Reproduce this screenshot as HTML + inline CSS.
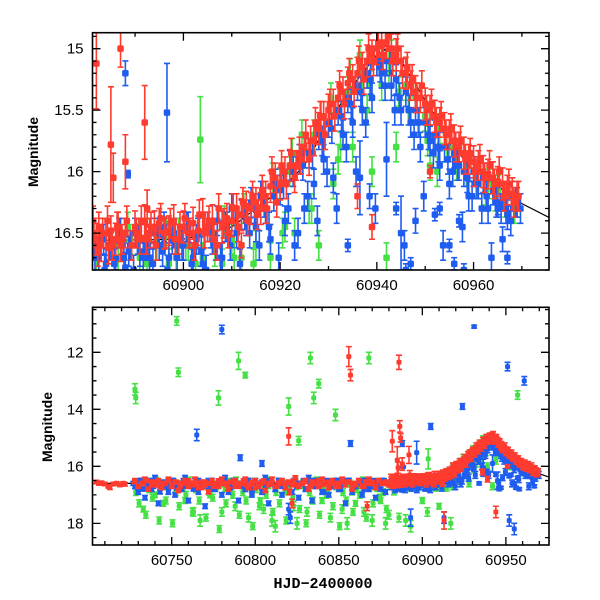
<!DOCTYPE html>
<html><head><meta charset="utf-8"><style>
html,body{margin:0;padding:0;background:#fff;}
svg{display:block;font-family:"Liberation Sans",sans-serif;}
</style></head><body>
<svg id="chart" width="600" height="600" viewBox="0 0 600 600">
<g id="top"></g>
<g id="bot"></g>
<text x="38" y="152" transform="rotate(-90 38 152)" text-anchor="middle" font-size="14" font-weight="bold">Magnitude</text>
<text x="52" y="427" transform="rotate(-90 52 427)" text-anchor="middle" font-size="14" font-weight="bold">Magnitude</text>
<text x="323" y="588" text-anchor="middle" font-size="15" font-family="Liberation Mono, monospace" font-weight="bold">HJD−2400000</text>
</svg>
<script>
const redT=[60705,60706.5,60708,60710,60712,60713,60715,60717,60719,60721,60722,60728,60730,60733,60735,60738,60740,60743,60745,60748,60750,60753,60755,60758,60760,60763,60765,60768,60770,60773,60775,60778,60780,60783,60785,60788,60790,60793,60795,60798,60800,60803,60805,60808,60810,60813,60815,60818,60820,60820.5,60822,60823,60825,60828,60830,60833,60835,60838,60840,60843,60845,60848,60850,60853,60856,60857,60858,60860,60862,60865,60867,60868,60870,60872,60874,60876,60878,60880,60886,60886.5,60887,60913,60944,
60881.5,60882,60882.5,60883,60884,60884.5,60885,60886,60886.5,60887,60888,60890,60891,60892,60893,60894,60895,60896,60897,60898,60899,60900,60901,60902,60903,60904,60905,60906,60907,60908,60909,60910,60911,60912,60913,60914,60915,60916,60917,60918,60919,60920,60921,60922,60923,60924,60925,60926,60927,60928,60929,60930,60931,60932,60933,60934,60935,60936,60937,60938,60939,60940,60941,60942,60943,60944,60945,60946,60947,60948,60949,60950,60951,60952,60953,60954,60955,60956,60957,60958,60959,60960,60961,60962,60963,60964,60965,60966,60967,60968,60969,
60882,60885,60885.5,60888,60892,60892.5,60912,60936,60939,60951];
const redM=[16.55,16.6,16.58,16.62,16.7,16.75,16.62,16.6,16.65,16.6,16.63,16.55,16.7,16.6,16.5,16.65,16.55,16.7,16.6,16.5,16.65,16.55,16.7,16.6,16.5,16.65,16.6,16.75,16.55,16.6,16.7,16.5,16.6,16.65,16.55,16.7,16.6,16.5,16.65,16.55,16.75,16.6,16.5,16.65,16.6,16.7,16.55,16.6,14.95,16.9,17.3,16.5,16.65,16.6,16.55,16.7,16.6,16.5,16.65,16.55,16.6,16.7,16.6,16.55,12.15,12.8,16.6,16.65,16.5,16.7,17.4,16.6,16.55,16.65,16.5,16.6,16.55,16.6,12.35,14.6,15.0,17.9,17.6,
16.5,16.55,16.45,16.6,16.5,16.62,16.48,16.55,16.45,16.6,16.5,16.45,16.55,16.4,16.5,16.45,16.42,16.5,16.48,16.4,16.55,16.45,16.5,16.42,16.48,16.35,16.45,16.4,16.6,16.45,16.38,16.4,16.3,16.35,16.28,16.3,16.25,16.3,16.2,16.12,16.05,16.1,16.0,15.95,16.05,15.85,15.8,15.9,15.75,15.65,15.55,15.5,15.45,15.4,15.35,15.28,15.25,15.2,15.15,15.1,15.05,15.0,14.98,14.95,15.0,15.05,15.1,15.2,15.3,15.35,15.4,15.45,15.5,15.55,15.6,15.65,15.7,15.75,15.8,15.85,15.9,15.92,15.95,16.0,16.02,16.05,16.08,16.1,16.15,16.18,16.2,
15.12,15.78,16.05,15.92,15.6,16.3,16.6,16.2,16.45,16.0];
const redE=[0.06,0.06,0.06,0.06,0.06,0.06,0.06,0.06,0.06,0.06,0.06,0.06,0.06,0.06,0.06,0.06,0.06,0.06,0.06,0.06,0.06,0.06,0.06,0.06,0.06,0.06,0.06,0.06,0.06,0.06,0.06,0.06,0.06,0.06,0.06,0.06,0.06,0.06,0.06,0.06,0.06,0.06,0.06,0.06,0.06,0.06,0.06,0.06,0.3,0.1,0.15,0.06,0.06,0.06,0.06,0.06,0.06,0.06,0.06,0.06,0.06,0.06,0.06,0.06,0.35,0.2,0.06,0.06,0.06,0.06,0.15,0.06,0.06,0.06,0.06,0.06,0.06,0.06,0.25,0.2,0.15,0.3,0.2,
0.12,0.13,0.12,0.13,0.12,0.13,0.12,0.13,0.12,0.13,0.12,0.13,0.12,0.13,0.12,0.13,0.12,0.13,0.12,0.13,0.12,0.13,0.12,0.13,0.12,0.13,0.12,0.13,0.12,0.13,0.12,0.13,0.12,0.13,0.12,0.13,0.12,0.13,0.12,0.13,0.12,0.13,0.12,0.13,0.12,0.13,0.12,0.13,0.12,0.13,0.12,0.13,0.12,0.13,0.12,0.13,0.12,0.13,0.12,0.13,0.12,0.13,0.12,0.13,0.12,0.13,0.12,0.13,0.12,0.13,0.12,0.13,0.12,0.13,0.12,0.13,0.12,0.13,0.12,0.13,0.12,0.13,0.12,0.13,0.12,0.13,0.12,0.13,0.12,0.13,0.12,
0.37,0.47,0.2,0.22,0.3,0.15,0.1,0.1,0.1,0.05];
const redT2=[60881.3,60882.3,60883.3,60884.3,60885.3,60886.3,60887.3,60888.3,60889.3,60890.3,60891.3,60892.3,60893.3,60894.3,60895.3,60896.3,60897.3,60898.3,60899.3,60900.3,60901.3,60902.3,60903.3,60904.3,60905.3,60906.3,60907.3,60908.3,60909.3,60910.3,60911.3,60912.3,60913.3,60914.3,60915.3,60916.3,60917.3,60918.3,60919.3,60920.3,60921.3,60922.3,60923.3,60924.3,60925.3,60926.3,60927.3,60928.3,60929.3,60930.3,60931.3,60932.3,60933.3,60934.3,60935.3,60936.3,60937.3,60938.3,60939.3,60940.3,60941.3,60942.3,60943.3,60944.3,60945.3,60946.3,60947.3,60948.3,60949.3,60950.3,60951.3,60952.3,60953.3,60954.3,60955.3,60956.3,60957.3,60958.3,60959.3,60960.3,60961.3,60962.3,60963.3,60964.3,60965.3,60966.3,60967.3,60968.3,60969.3];
const redM2=[16.4,16.65,16.5,16.4,16.6,16.45,16.55,16.4,16.6,16.5,16.4,16.55,16.45,16.6,16.38,16.5,16.42,16.55,16.45,16.38,16.5,16.6,16.35,16.5,16.4,16.55,16.3,16.42,16.5,16.3,16.45,16.25,16.4,16.2,16.35,16.15,16.3,16.0,16.25,15.95,16.1,15.85,15.95,15.9,15.7,15.75,15.6,15.55,15.7,15.45,15.55,15.3,15.45,15.2,15.35,15.1,15.25,15.0,15.1,14.95,15.05,14.9,15.1,15.0,15.2,15.15,15.25,15.4,15.3,15.5,15.45,15.6,15.55,15.7,15.65,15.8,15.75,15.9,15.85,16.0,15.9,16.05,15.95,16.1,16.0,16.2,16.1,16.25,16.2];
const redE2=0.12;

const blueT=[60727,60729,60731,60733,60735,60737,60739,60741,60743,60745,60747,60749,60751,60753,60755,60757,60759,60761,60763,60765,60766,60768,60770,60772,60774,60776,60778,60780,60781,60783,60785,60787,60789,60791,60792,60794,60796,60798,60800,60802,60804,60806,60808,60810,60812,60814,60816,60818,60820,60821,60823,60825,60827,60829,60831,60833,60835,60837,60839,60841,60843,60845,60847,60849,60851,60853,60855,60857,60859,60861,60863,60865,60867,60869,60871,60873,60875,60877,60879,60888,60893,60905,60913,60924,60931,60951,60952,60961,60955,
60881.5,60882.5,60883.5,60884,60885,60886,60887,60888,60889,60890,60891,60892,60893,60894,60895,60896,60897,60898,60899,60900,60901,60902,60903,60904,60905,60906,60907,60908,60909,60910,60911,60912,60913,60914,60915,60916,60917,60918,60919,60920,60921,60922,60923,60924,60925,60926,60927,60928,60929,60930,60931,60932,60933,60934,60935,60936,60937,60938,60939,60940,60941,60942,60943,60944,60945,60946,60947,60948,60949,60950,60951,60952,60953,60954,60955,60956,60957,60958,60959,60960,60961,60962,60963,60964,60965,60966,60967,60968,60969,
60896.6,60888.5,60944,60945,60946,60947,60948,60952,60953,60955,60956,60957,60958,60965,60966,60967,60936.5,60938.5,60934,60942];
const blueM=[16.6,16.7,16.5,16.8,16.6,16.5,16.7,16.6,16.9,16.55,16.7,16.6,16.5,16.75,16.6,16.5,16.7,16.6,16.8,14.9,16.5,16.7,16.6,16.5,16.8,16.6,16.7,11.2,16.5,16.6,16.75,16.5,16.6,15.7,16.7,16.5,16.6,16.8,16.5,16.6,15.9,16.7,16.5,16.6,16.8,16.5,16.7,16.6,17.5,17.8,16.5,16.7,16.6,16.5,16.8,16.6,16.5,16.7,16.6,16.9,16.5,16.6,16.7,16.5,16.8,16.6,16.5,15.2,16.7,16.6,16.5,16.8,16.6,16.7,16.5,16.6,16.8,16.5,16.6,15.2,17.8,14.6,17.8,13.9,11.1,12.5,17.9,13.0,18.2,
16.6,16.7,16.55,16.75,16.6,16.7,16.5,16.78,16.6,16.5,16.65,16.55,16.7,16.5,16.6,16.45,16.7,16.5,16.55,16.6,16.45,16.7,16.5,16.75,16.45,16.55,16.4,16.7,16.45,16.3,16.5,16.35,16.4,16.25,16.45,16.2,16.3,16.55,16.1,16.15,16.4,15.95,16.6,15.9,16.3,15.85,16.1,15.7,15.9,15.6,16.05,15.5,15.7,15.4,15.6,15.3,15.5,15.2,15.4,15.1,15.2,15.1,15.3,15.25,15.5,15.35,15.6,15.5,15.8,15.6,15.75,15.7,15.95,15.8,16.1,15.85,15.95,16.0,16.2,16.0,16.1,16.05,16.3,16.15,16.25,16.2,16.35,16.2,16.25,
15.52,16.02,16.3,16.5,16.8,16.75,16.4,16.35,16.3,16.6,16.75,16.4,16.8,16.3,16.55,16.7,16.05,16.2,16.6,15.9];
const blueE=[0.07,0.07,0.07,0.07,0.07,0.07,0.07,0.07,0.07,0.07,0.07,0.07,0.07,0.07,0.07,0.07,0.07,0.07,0.07,0.2,0.07,0.07,0.07,0.07,0.07,0.07,0.07,0.15,0.07,0.07,0.07,0.07,0.07,0.1,0.07,0.07,0.07,0.07,0.07,0.07,0.1,0.07,0.07,0.07,0.07,0.07,0.07,0.07,0.2,0.2,0.07,0.07,0.07,0.07,0.07,0.07,0.07,0.07,0.07,0.07,0.07,0.07,0.07,0.07,0.07,0.07,0.07,0.1,0.07,0.07,0.07,0.07,0.07,0.07,0.07,0.07,0.07,0.07,0.07,0.1,0.3,0.1,0.2,0.1,0.05,0.15,0.2,0.15,0.2,
0.12,0.12,0.12,0.12,0.12,0.12,0.12,0.12,0.12,0.12,0.12,0.12,0.12,0.12,0.12,0.12,0.12,0.12,0.12,0.12,0.12,0.12,0.12,0.12,0.12,0.12,0.12,0.12,0.12,0.12,0.12,0.12,0.12,0.12,0.12,0.12,0.12,0.12,0.12,0.12,0.12,0.12,0.12,0.12,0.12,0.12,0.12,0.12,0.12,0.12,0.12,0.12,0.12,0.12,0.12,0.12,0.12,0.12,0.12,0.12,0.12,0.12,0.12,0.12,0.12,0.12,0.12,0.12,0.12,0.12,0.12,0.12,0.12,0.12,0.12,0.12,0.12,0.12,0.12,0.12,0.12,0.12,0.12,0.12,0.12,0.12,0.12,0.12,0.12,
0.4,0.03,0.05,0.3,0.05,0.05,0.1,0.05,0.05,0.05,0.05,0.05,0.05,0.05,0.1,0.05,0.3,0.1,0.05,0.3];
const blueT2=[60881.7,60882.7,60883.7,60884.7,60885.7,60886.7,60887.7,60888.7,60889.7,60890.7,60891.7,60892.7,60893.7,60894.7,60895.7,60896.7,60897.7,60898.7,60899.7,60900.7,60901.7,60902.7,60903.7,60904.7,60905.7,60906.7,60907.7,60908.7,60909.7,60910.7,60911.7,60912.7,60913.7,60914.7,60915.7,60916.7,60917.7,60918.7,60919.7,60920.7,60921.7,60922.7,60923.7,60924.7,60925.7,60926.7,60927.7,60928.7,60929.7,60930.7,60931.7,60932.7,60933.7,60934.7,60935.7,60936.7,60937.7,60938.7,60939.7,60940.7,60941.7,60942.7,60943.7,60944.7,60945.7,60946.7,60947.7,60948.7,60949.7,60950.7,60951.7,60952.7,60953.7,60954.7,60955.7,60956.7,60957.7,60958.7,60959.7,60960.7,60961.7,60962.7,60963.7,60964.7,60965.7,60966.7,60967.7,60968.7,60969.7];
const blueM2=[16.7,16.55,16.8,16.6,16.75,16.5,16.7,16.65,16.8,16.55,16.7,16.6,16.75,16.5,16.65,16.8,16.55,16.7,16.6,16.45,16.75,16.55,16.65,16.8,16.5,16.6,16.7,16.45,16.6,16.4,16.75,16.35,16.5,16.3,16.6,16.25,16.45,16.2,16.7,16.1,16.3,16.0,16.5,15.95,16.2,15.85,16.4,15.75,16.0,15.65,16.3,15.55,15.8,15.45,16.0,15.35,15.6,15.25,16.3,15.15,15.3,15.1,15.5,15.4,16.6,15.5,15.7,15.6,16.2,15.7,15.85,15.8,16.6,15.9,16.0,15.95,16.45,16.05,16.2,16.1,16.3,16.2,16.7,16.25,16.3,16.3,16.4,16.25,16.3];
const blueE2=0.12;

const greenT=[60728,60728.5,60730,60733,60735,60738,60740,60743,60745,60748,60750,60753,60754,60756,60758,60760,60763,60765,60767,60770,60773,60776,60778,60780,60782,60785,60788,60790,60792,60794,60796,60798,60800,60803,60805,60808,60810,60812,60815,60818,60820,60823,60825,60826,60828,60831,60833,60835,60836,60838,60840,60843,60845,60848,60850,60852,60855,60858,60860,60863,60865,60868,60870,60873,60875,60878,60880,60883,60886,60890,60893,60900,60903,60910,60917,60957,
60881,60882,60884,60886,60889,60891,60893,60895,60897,60899,60901,60903.5,60904,60906,60908,60910,60912,60913,60915,60917,60918,60920,60921,60922,60923,60925,60926,60927,60928,60930,60931,60932,60934,60935,60937,60938,60939,60940,60941,60942,60943,60944,60946,60948,60950,60951,60953,60955,60957,60959,60961,60963,60965,60967,60969];
const greenM=[13.3,13.6,16.6,17.5,16.7,16.5,17.0,16.6,17.3,16.7,16.5,10.9,12.7,16.8,17.2,16.6,17.6,16.5,17.9,16.7,17.0,16.6,13.6,17.6,16.8,16.5,17.4,12.3,16.6,12.8,17.8,16.9,16.5,17.2,17.5,16.7,17.9,18.1,16.6,16.9,13.9,17.4,18.0,15.1,16.7,17.6,12.2,13.6,16.5,13.1,17.2,16.8,17.8,14.2,16.6,17.5,18.0,16.9,17.3,16.7,17.6,12.2,17.9,16.8,17.2,18.0,17.7,16.9,17.8,17.9,18.1,17.2,17.6,17.4,18.0,13.5,
16.6,16.7,16.5,16.6,16.55,16.7,16.5,16.6,16.75,16.5,16.6,15.74,16.7,16.5,16.75,16.55,16.7,16.4,16.6,16.3,16.7,16.1,16.45,16.0,16.5,15.85,16.3,15.7,16.6,15.6,16.1,15.9,15.35,15.8,15.2,15.5,16.0,15.1,15.3,16.7,15.05,15.8,15.3,15.4,15.55,15.95,15.65,15.8,15.85,15.95,16.0,16.1,16.15,16.2,16.25];
const greenE=[0.2,0.2,0.08,0.1,0.08,0.08,0.1,0.08,0.1,0.08,0.08,0.15,0.15,0.08,0.1,0.08,0.15,0.08,0.2,0.08,0.1,0.08,0.25,0.15,0.08,0.08,0.15,0.3,0.08,0.1,0.15,0.1,0.08,0.1,0.15,0.08,0.2,0.2,0.08,0.1,0.3,0.15,0.2,0.15,0.08,0.15,0.2,0.2,0.08,0.15,0.1,0.08,0.15,0.2,0.08,0.15,0.2,0.1,0.1,0.08,0.15,0.2,0.2,0.08,0.1,0.2,0.15,0.1,0.15,0.2,0.2,0.1,0.15,0.1,0.2,0.15,
0.12,0.12,0.12,0.12,0.12,0.12,0.12,0.12,0.12,0.12,0.12,0.35,0.12,0.12,0.12,0.12,0.12,0.12,0.12,0.12,0.12,0.12,0.12,0.12,0.12,0.12,0.12,0.12,0.12,0.12,0.12,0.12,0.12,0.12,0.12,0.12,0.12,0.12,0.12,0.12,0.12,0.12,0.12,0.12,0.12,0.12,0.12,0.12,0.12,0.12,0.12,0.12,0.12,0.12,0.12];
const greenT2=[60882.5,60884.5,60886.5,60888.5,60890.5,60892.5,60894.5,60896.5,60898.5,60900.5,60902.5,60904.5,60906.5,60908.5,60910.5,60912.5,60914.5,60916.5,60918.5,60920.5,60922.5,60924.5,60926.5,60928.5,60930.5,60932.5,60934.5,60936.5,60938.5,60940.5,60942.5,60944.5,60946.5,60948.5,60950.5,60952.5,60954.5,60956.5,60958.5,60960.5,60962.5,60964.5,60966.5,60968.5];
const greenM2=[16.5,16.6,16.7,16.45,16.55,16.75,16.6,16.5,16.7,16.6,16.75,16.5,16.65,16.4,16.7,16.3,16.75,16.2,16.05,16.5,15.85,15.7,16.3,15.55,15.4,15.8,15.2,15.05,15.3,15.1,15.2,15.35,15.5,15.6,15.75,16.0,15.8,15.95,16.0,16.1,16.15,16.2,16.25,16.3];
const greenE2=0.12;

const baseT=[60728,60730,60732,60734,60736,60738,60740,60742,60744,60746,60748,60750,60752,60754,60756,60758,60760,60762,60764,60766,60768,60770,60772,60774,60776,60778,60780,60782,60784,60786,60788,60790,60792,60794,60796,60798,60800,60802,60804,60806,60808,60810,60812,60814,60816,60818,60820,60822,60824,60826,60828,60830,60832,60834,60836,60838,60840,60842,60844,60846,60848,60850,60852,60854,60856,60858,60860,60862,60864,60866,60868,60870,60872,60874,60876,60878,60880];
const redBM=[16.5,16.7,16.6,16.45,16.8,16.55,16.65,16.5,16.75,16.6,16.45,16.7,16.55,16.85,16.6,16.5,16.7,16.6,16.45,16.75,16.55,16.65,16.9,16.5,16.6,16.7,16.45,16.6,16.8,16.55,16.5,16.7,16.6,16.45,16.75,16.6,16.5,16.7,16.55,16.85,16.6,16.45,16.7,16.6,16.5,16.75,16.55,16.65,16.4,16.7,16.6,16.5,16.8,16.55,16.6,16.7,16.45,16.6,16.75,16.5,16.6,16.7,16.45,16.65,16.55,16.8,16.6,16.5,16.7,16.55,16.45,16.6,16.75,16.5,16.6,16.55,16.65];
const blueBM=[16.7,16.9,16.5,17.1,16.6,16.8,16.4,17.3,16.7,16.6,16.9,16.5,17.0,16.6,16.8,16.4,17.2,16.7,16.5,16.9,16.6,17.4,16.7,16.5,16.8,16.6,17.0,16.4,16.9,16.7,16.5,17.2,16.6,16.8,16.5,17.0,16.7,16.6,16.9,16.4,17.3,16.6,16.8,16.5,17.0,16.7,16.6,16.9,16.5,17.1,16.6,16.8,16.4,17.2,16.7,16.5,16.9,16.6,17.0,16.7,16.5,16.8,16.6,17.3,16.5,16.9,16.7,16.6,17.0,16.5,16.8,16.6,17.1,16.7,16.5,16.9,16.6];
const greenBM=[16.9,17.3,16.6,17.7,16.8,17.1,16.5,17.9,16.7,17.2,16.6,18.0,16.9,17.4,16.7,17.0,16.5,17.6,16.8,17.2,16.6,17.8,16.9,17.1,16.7,18.2,16.6,17.3,16.8,17.0,16.5,17.7,16.9,17.2,16.6,18.1,16.8,17.4,16.7,17.0,16.5,17.6,16.9,17.3,16.6,17.9,16.8,17.1,16.7,17.5,16.6,18.0,16.9,17.2,16.5,17.7,16.8,17.0,16.6,17.4,16.7,18.1,16.9,17.2,16.6,17.6,16.8,17.0,16.5,17.8,16.7,17.3,16.6,17.1,16.9,17.5,16.7];

const modelT=[60703,60800,60900,60910,60915,60920,60925,60930,60935,60940,60942,60945,60950,60955,60960,60965,60970,60976];
const modelM=[16.6,16.6,16.55,16.45,16.3,16.15,15.95,15.6,15.3,15.05,15.0,15.1,15.42,15.72,15.95,16.12,16.26,16.38];

const topXTicks=[60900,60920,60940,60960];
const topYTicks=[15,15.5,16,16.5];
const botXTicks=[60750,60800,60850,60900,60950];
const botYTicks=[12,14,16,18];

const NS="http://www.w3.org/2000/svg";
function mk(tag,attrs,parent){const e=document.createElementNS(NS,tag);for(const k in attrs)e.setAttribute(k,attrs[k]);parent.appendChild(e);return e;}

const panels=[
 {g:document.getElementById('top'),id:'top',x0:92.5,x1:549,y0:32.7,y1:270,d0:60881.2,d1:60975.6,m0:14.87,m1:16.80,xt:topXTicks,yt:topYTicks,xmin:10,ymin:0.1,ms:6.5},
 {g:document.getElementById('bot'),id:'bot',x0:92.5,x1:549,y0:307.3,y1:545,d0:60702.6,d1:60975.8,m0:10.42,m1:18.76,xt:botXTicks,yt:botYTicks,xmin:10,ymin:0.5,ms:5}
];
const series=[
 {name:'green',c:'#44e044',sets:[[greenBM.map((_,i)=>baseT[i]+0.5),greenBM,0.12],[greenT,greenM,greenE],[greenT2,greenM2,greenE2]]},
 {name:'blue',c:'#1f5cf0',sets:[[baseT,blueBM,0.08],[blueT,blueM,blueE],[blueT2,blueM2,blueE2]]},
 {name:'red',c:'#ff3b2f',sets:[[baseT,redBM,0.07],[redT,redM,redE],[redT2,redM2,redE2]]}
];
panels.forEach(p=>{
 const X=t=>p.x0+(t-p.d0)/(p.d1-p.d0)*(p.x1-p.x0);
 const Y=m=>p.y0+(m-p.m0)/(p.m1-p.m0)*(p.y1-p.y0);
 const defs=mk('defs',{},p.g);
 const cp=mk('clipPath',{id:'clip-'+p.id},defs);
 mk('rect',{x:p.x0,y:p.y0,width:p.x1-p.x0,height:p.y1-p.y0},cp);
 const plot=mk('g',{'clip-path':'url(#clip-'+p.id+')'},p.g);
 
 
 let d='';modelT.forEach((t,i)=>{d+=(i?'L':'M')+X(t).toFixed(1)+' '+Y(modelM[i]).toFixed(1);});
 const ml=mk('path',{d:d,fill:'none',stroke:'#000','stroke-width':1.2},plot);
 
 
 series.forEach(s=>{
  const sg=mk('g',{fill:s.c,stroke:s.c},plot);
  
  
  s.sets.forEach(([T,M,E])=>{
   const n=Math.min(T.length,M.length);
   for(let i=0;i<n;i++){
    const e=Array.isArray(E)?(E[i]===undefined?0.1:E[i]):E;
    const x=X(T[i]),y=Y(M[i]),ya=Y(M[i]-e),yb=Y(M[i]+e);
    if(x<p.x0-10||x>p.x1+10)continue;
    const pt=mk('g',{},sg);
    
    
    mk('path',{d:`M${x} ${ya}V${yb}M${x-3} ${ya}H${x+3}M${x-3} ${yb}H${x+3}`,'stroke-width':1.6,fill:'none'},pt);
    mk('rect',{x:x-p.ms/2,y:y-p.ms/2,width:p.ms,height:p.ms,rx:1.5,stroke:'none'},pt);
   }
  });
 });
 const fr=mk('rect',{x:p.x0,y:p.y0,width:p.x1-p.x0,height:p.y1-p.y0,fill:'none',stroke:'#000','stroke-width':1.6},p.g);
 
 
 const ax=mk('g',{stroke:'#000','stroke-width':1.3},p.g);
 
 
 let td='';
 for(let t=Math.ceil(p.d0/p.xmin)*p.xmin;t<=p.d1;t+=p.xmin){
  const major=p.xt.some(v=>Math.abs(v-t)<1e-6);const L=major?8:4;const x=X(t);
  td+=`M${x} ${p.y1}v${-L}M${x} ${p.y0}v${L}`;
 }
 for(let k=Math.ceil(p.m0/p.ymin-1e-6);k*p.ymin<=p.m1;k++){
  const m=k*p.ymin;const major=p.yt.some(v=>Math.abs(v-m)<1e-6);const L=major?8:4;const y=Y(m);
  td+=`M${p.x0} ${y}h${L}M${p.x1} ${y}h${-L}`;
 }
 mk('path',{d:td,fill:'none'},ax);
 p.xt.forEach(t=>{
  const tx=mk('text',{x:X(t),y:p.y1+20,'text-anchor':'middle','font-size':15},p.g);
  tx.textContent=t;
  
  
 });
 p.yt.forEach(m=>{
  const ty=mk('text',{x:p.x0-9,y:Y(m)+5,'text-anchor':'end','font-size':15},p.g);
  ty.textContent=m;
  
  
 });
});
</script>
</body></html>
